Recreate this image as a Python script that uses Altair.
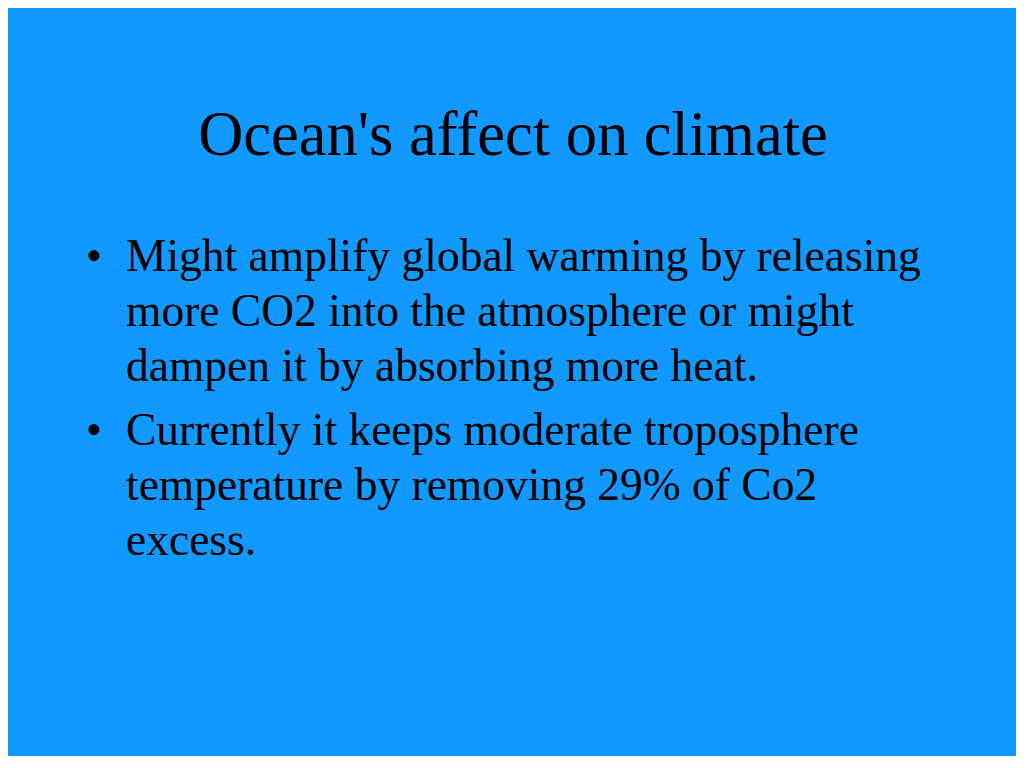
import altair as alt
import pandas as pd

# ---- content ----
title_text = "Ocean's affect on climate"
bullet1_lines = [
    "Might amplify global warming by releasing",
    "more CO2 into the atmosphere or might",
    "dampen it by absorbing more heat.",
]
bullet2_lines = [
    "Currently it keeps moderate troposphere",
    "temperature by removing 29% of Co2",
    "excess.",
]
paragraphs = [bullet1_lines, bullet2_lines]

# ---- layout (slide pixel coordinates) ----
W, H = 1008, 748
MARGIN = 8
para_start = [271, 445]
line_gap = 55
text_x = 126
bullet_x = 86
title_x = 513
title_y = 155

rows = []
bullets = []
for p, lines in enumerate(paragraphs):
    for i, line in enumerate(lines):
        rows.append({"x": text_x, "y": para_start[p] + i * line_gap, "t": line})
    bullets.append({"x": bullet_x, "y": para_start[p], "t": "\u2022"})

body_df = pd.DataFrame(rows)
bullet_df = pd.DataFrame(bullets)
title_df = pd.DataFrame([{"x": title_x, "y": title_y, "t": title_text}])

xs = alt.Scale(domain=[MARGIN, MARGIN + W], range=[0, W])
ys = alt.Scale(domain=[MARGIN + H, MARGIN], range=[H, 0])

def enc(ch):
    return ch.encode(
        x=alt.X("x:Q", scale=xs, axis=None),
        y=alt.Y("y:Q", scale=ys, axis=None),
        text="t:N",
    )

FONT = "Liberation Serif"

title = enc(alt.Chart(title_df).mark_text(
    font=FONT, fontSize=62.5, color="black", align="center", baseline="alphabetic"))
body = enc(alt.Chart(body_df).mark_text(
    font=FONT, fontSize=45.5, color="black", align="left", baseline="alphabetic"))
dots = enc(alt.Chart(bullet_df).mark_text(
    font=FONT, fontSize=45.5, color="black", align="left", baseline="alphabetic"))

chart = (
    alt.layer(title, body, dots)
    .properties(
        width=W,
        height=H,
        padding=0,
        autosize=alt.AutoSizeParams(type="fit", contains="padding"),
        background="#1199FF",
    )
    .configure_view(stroke=None, fill="#1199FF")
)

chart.save("out.html", embed_options={"renderer": "svg", "actions": False})
